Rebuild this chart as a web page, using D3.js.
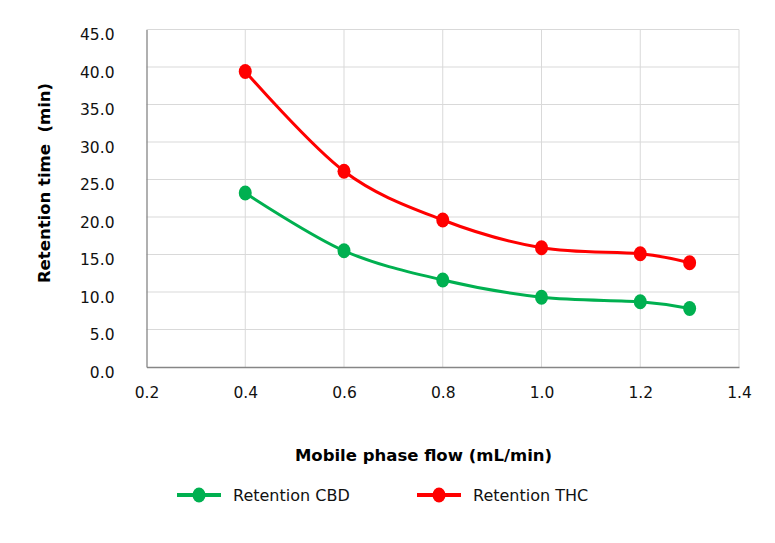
<!DOCTYPE html>
<html>
<head>
<meta charset="utf-8">
<script src="https://cdn.jsdelivr.net/npm/d3@7"></script>
<style>
  body { margin: 0; background: #fff; }
  text { font-family: "DejaVu Sans", Verdana, sans-serif; }
</style>
</head>
<body>
<script>
// flow rate vs retention time, CBD and THC
var flow = [0.4, 0.6, 0.8, 1.0, 1.2, 1.3];
var cbd = [23.2, 15.5, 11.6, 9.3, 8.7, 7.8];
var thc = [39.4, 26.1, 19.6, 15.9, 15.1, 13.9];
var xTicks = [0.2, 0.4, 0.6, 0.8, 1.0, 1.2, 1.4];
var yTicks = [0, 5, 10, 15, 20, 25, 30, 35, 40, 45];
var seriesNames = ["Retention CBD", "Retention THC"];
var seriesColors = ["#00b050", "#ff0000"];

var svg = d3.select("body")
    .append("svg")
    .attr("width", 775)
    .attr("height", 543);

var x = d3.scaleLinear()
    .domain([0.2, 1.4])
    .range([146.5, 739]);

var y = d3.scaleLinear()
    .domain([0, 45])
    .range([367, 29.5]);

// grid
svg.append("g")
    .selectAll("line")
    .data(yTicks.slice(1))
    .enter()
    .append("line")
    .attr("x1", x(0.2))
    .attr("x2", x(1.4))
    .attr("y1", function (d) { return y(d); })
    .attr("y2", function (d) { return y(d); })
    .attr("stroke", "#d9d9d9")
    .attr("stroke-width", 1);

svg.append("g")
    .selectAll("line")
    .data(xTicks.slice(1))
    .enter()
    .append("line")
    .attr("x1", function (d) { return x(d); })
    .attr("x2", function (d) { return x(d); })
    .attr("y1", y(0))
    .attr("y2", y(45))
    .attr("stroke", "#d9d9d9")
    .attr("stroke-width", 1);

// axes
var xAxis = d3.axisBottom(x)
    .tickValues(xTicks)
    .tickFormat(d3.format(".1f"))
    .tickSize(0)
    .tickPadding(20);

var yAxis = d3.axisLeft(y)
    .tickValues(yTicks)
    .tickFormat(d3.format(".1f"))
    .tickSize(0)
    .tickPadding(32);

var gx = svg.append("g")
    .attr("transform", "translate(0," + y(0) + ")")
    .call(xAxis);

var gy = svg.append("g")
    .attr("transform", "translate(" + x(0.2) + ",0)")
    .call(yAxis);

[gx, gy].forEach(function (g) {
    g.select(".domain").attr("stroke", "#868686").attr("stroke-width", 1.3);
    g.selectAll("text")
        .attr("fill", "#111")
        .style("font-size", "15.5px")
        .style("font-family", "'DejaVu Sans', Verdana, sans-serif");
});
gy.selectAll("text").attr("dy", "0.65em");

// lines
var curve = d3.curveCatmullRom.alpha(0);
[cbd, thc].forEach(function (vals, i) {
    var pts = flow.map(function (f, j) { return [f, vals[j]]; });
    var line = d3.line()
        .x(function (d) { return x(d[0]); })
        .y(function (d) { return y(d[1]); })
        .curve(curve);

    svg.append("path")
        .datum(pts)
        .attr("d", line)
        .attr("fill", "none")
        .attr("stroke", seriesColors[i])
        .attr("stroke-width", 3);

    svg.append("g")
        .selectAll("ellipse")
        .data(pts)
        .enter()
        .append("ellipse")
        .attr("cx", function (d) { return x(d[0]); })
        .attr("cy", function (d) { return y(d[1]); })
        .attr("rx", 6.5)
        .attr("ry", 7.5)
        .attr("fill", seriesColors[i]);
});

// titles
svg.append("text")
    .attr("x", 423.5)
    .attr("y", 461)
    .attr("text-anchor", "middle")
    .style("font-size", "16.5px")
    .style("font-weight", "bold")
    .attr("fill", "#000")
    .text("Mobile phase flow (mL/min)");

svg.append("text")
    .attr("transform", "translate(50,183) rotate(-90)")
    .attr("text-anchor", "middle")
    .style("font-size", "16.5px")
    .style("font-weight", "bold")
    .style("white-space", "pre")
    .attr("fill", "#000")
    .text("Retention time  (min)");

// legend
var legendX = [177, 417];
seriesNames.forEach(function (name, i) {
    var lg = svg.append("g")
        .attr("transform", "translate(" + legendX[i] + ",495)");
    lg.append("line")
        .attr("x1", 0)
        .attr("x2", 44)
        .attr("stroke", seriesColors[i])
        .attr("stroke-width", 4);
    lg.append("ellipse")
        .attr("cx", 22)
        .attr("rx", 6.5)
        .attr("ry", 7.5)
        .attr("fill", seriesColors[i]);
    lg.append("text")
        .attr("x", 56)
        .attr("dy", "0.35em")
        .style("font-size", "16px")
        .attr("fill", "#111")
        .text(name);
});
</script>
</body>
</html>
